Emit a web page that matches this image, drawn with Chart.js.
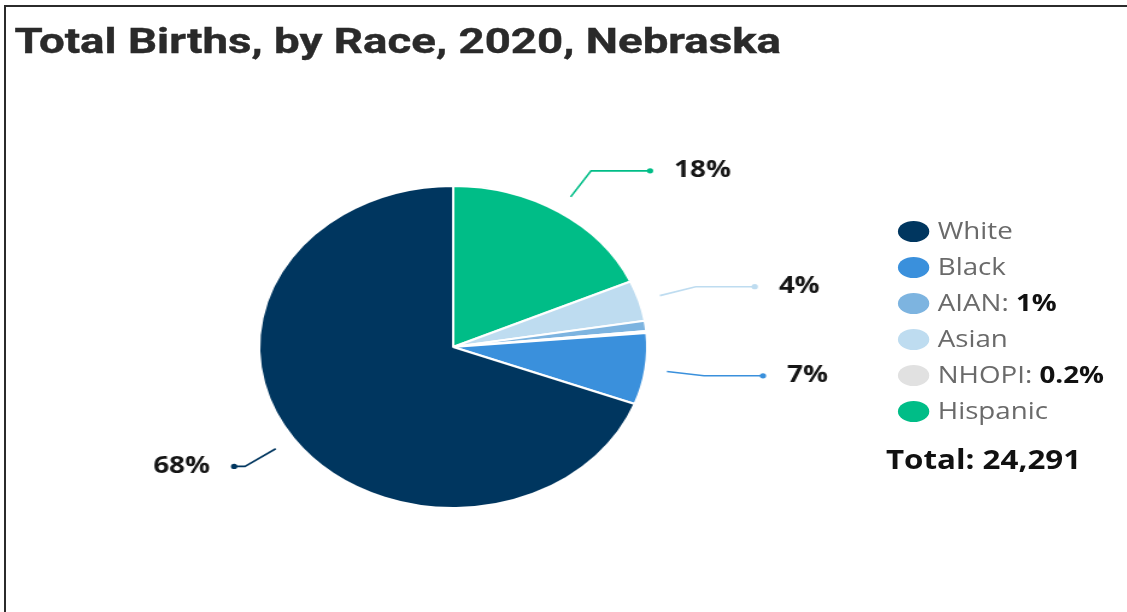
<!DOCTYPE html>
<html><head><meta charset="utf-8">
<script src="https://cdn.jsdelivr.net/npm/chart.js@4.4.1/dist/chart.umd.min.js"></script>
<style>
html,body{margin:0;padding:0;background:#fff;width:1127px;height:612px;overflow:hidden;}
#frameTop{position:absolute;left:4px;top:5px;width:1123px;height:2px;background:#2b2b2b;}
#frameLeft{position:absolute;left:4px;top:5px;width:2px;height:607px;background:#2b2b2b;}
#stage{position:absolute;left:0;top:0;width:935px;height:612px;transform:scaleX(1.2053);transform-origin:0 0;}
#chart{position:absolute;left:0;top:0;}
#title{position:absolute;left:12px;top:24px;font-family:Roboto;font-weight:700;font-size:35px;line-height:35px;color:#2a2a2a;white-space:nowrap;transform:scaleX(1.082);transform-origin:0 0;-webkit-text-stroke:0.4px #2a2a2a;}
.leg{position:absolute;left:778px;font-family:'Open Sans';font-size:23px;line-height:23px;color:#6a6a6a;white-space:nowrap;}
.leg b{color:#111;font-weight:700;}
.mk{position:absolute;left:745px;width:26px;height:21px;border-radius:50%;}
#total{position:absolute;left:735px;font-family:'Open Sans';font-weight:700;font-size:26px;line-height:26px;color:#111;white-space:nowrap;}
</style>
</head>
<body>
<div id="frameTop"></div><div id="frameLeft"></div>
<div id="stage">
  <canvas id="chart" width="935" height="612"></canvas>
  <div id="title"></div>
  <div id="legend"></div>
  <div id="total"></div>
</div>
<script>
const chartTitle = "Total Births, by Race, 2020, Nebraska";
const categories = ["White", "Black", "AIAN", "Asian", "NHOPI", "Hispanic"];
const percentValues = [68, 7, 1, 4, 0.2, 18];
const sliceColors = ["#00365f", "#3a90dc", "#7db4e0", "#bedcf0", "#e1e1e1", "#00bd87"];
const pieOrder = [5, 3, 2, 4, 1, 0];           // drawing order clockwise from 12 o'clock
const labelOnPie = [true, true, false, true, false, true];
const valueInLegend = [false, false, true, false, true, false];
const totalBirths = "24,291";

const fmt = v => v + "%";

document.getElementById('title').textContent = chartTitle;
document.getElementById('total').textContent = "Total: " + totalBirths;
document.getElementById('total').style.top = (469.5 - 0.888 * 26) + "px";

const legend = document.getElementById('legend');
categories.forEach((c, i) => {
  const base = 239.5 + i * 36;
  const mk = document.createElement('div');
  mk.className = 'mk';
  mk.style.background = sliceColors[i];
  mk.style.top = (base - 8 - 10.5) + "px";
  legend.appendChild(mk);
  const t = document.createElement('div');
  t.className = 'leg';
  t.style.top = (base - 0.888 * 23) + "px";
  t.textContent = c + (valueInLegend[i] ? ": " : "");
  if (valueInLegend[i]) {
    const b = document.createElement('b');
    b.textContent = fmt(percentValues[i]);
    t.appendChild(b);
  }
  legend.appendChild(t);
});

const leaderPlugin = {
  id: 'leaders',
  afterDatasetsDraw(chart) {
    const ctx = chart.ctx;
    const meta = chart.getDatasetMeta(0);
    meta.data.forEach((arc, i) => {
      const ci = pieOrder[i];
      if (!labelOnPie[ci]) return;
      const p = arc.getProps(['x', 'y', 'startAngle', 'endAngle', 'outerRadius'], true);
      const mid = (p.startAngle + p.endAngle) / 2;
      const c = Math.cos(mid), s = Math.sin(mid);
      const r0 = p.outerRadius + 18, r1 = p.outerRadius + 49;
      const sx = p.x + c * r0, sy = p.y + s * r0;
      const ex = p.x + c * r1, ey = p.y + s * r1;
      const right = c >= 0;
      const dx = right ? ex + 49 : ex - 9;
      ctx.save();
      ctx.strokeStyle = sliceColors[ci];
      ctx.fillStyle = sliceColors[ci];
      ctx.lineWidth = 1.6;
      ctx.beginPath();
      ctx.moveTo(sx, sy);
      ctx.lineTo(ex, ey);
      ctx.lineTo(dx, ey);
      ctx.stroke();
      ctx.beginPath();
      ctx.arc(dx, ey, 2.6, 0, Math.PI * 2);
      ctx.fill();
      ctx.fillStyle = "#151515";
      ctx.font = "700 23px 'Open Sans'";
      ctx.textBaseline = 'alphabetic';
      ctx.textAlign = right ? 'left' : 'right';
      ctx.fillText(fmt(percentValues[ci]), right ? dx + 20 : dx - 20, ey + 6.5);
      ctx.restore();
    });
  }
};

new Chart(document.getElementById('chart'), {
  type: 'pie',
  data: {
    labels: pieOrder.map(i => categories[i]),
    datasets: [{
      data: pieOrder.map(i => percentValues[i]),
      backgroundColor: pieOrder.map(i => sliceColors[i]),
      borderColor: '#ffffff',
      borderWidth: 2,
      hoverOffset: 0
    }]
  },
  options: {
    responsive: false,
    devicePixelRatio: 1,
    animation: false,
    layout: { padding: { top: 185, bottom: 103, left: 214, right: 397 } },
    plugins: { legend: { display: false }, tooltip: { enabled: false }, title: { display: false } }
  },
  plugins: [leaderPlugin]
});
</script>
</body></html>
